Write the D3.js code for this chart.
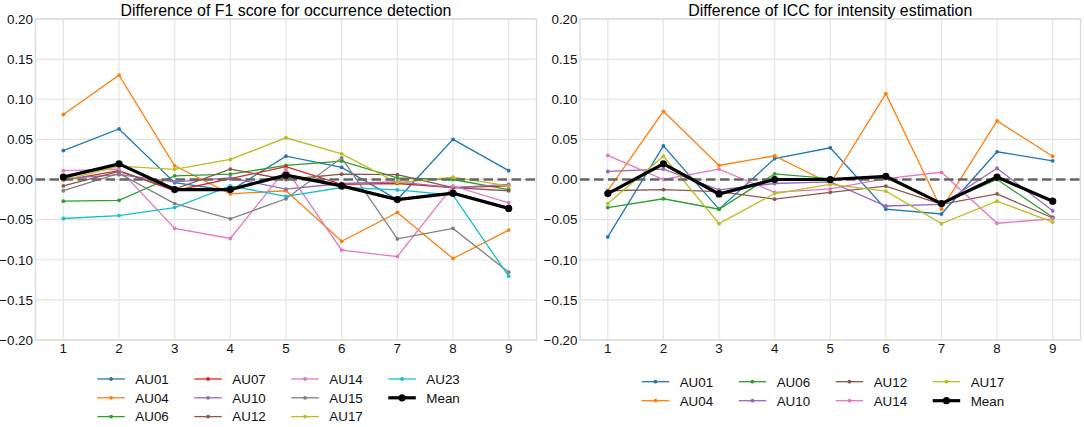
<!DOCTYPE html>
<html><head><meta charset="utf-8">
<script src="https://cdn.jsdelivr.net/npm/d3@7"></script>
<style>body{margin:0;background:#fff}svg{display:block;font-family:"Liberation Sans",Arial,sans-serif}</style>
</head><body><svg id="c" width="1084" height="427"></svg>
<script>
const xTicks = [1,2,3,4,5,6,7,8,9];
const yTicks = [-0.20,-0.15,-0.10,-0.05,0.00,0.05,0.10,0.15,0.20];

// Left: F1 score differences
const f1Names = ["AU01","AU04","AU06","AU07","AU10","AU12","AU14","AU15","AU17","AU23"];
const f1_AU01 = [0.036,0.063,-0.004,-0.014,0.029,0.015,-0.025,0.050,0.011];
const f1_AU04 = [0.081,0.130,0.017,-0.018,-0.014,-0.077,-0.041,-0.0985,-0.063];
const f1_AU06 = [-0.027,-0.026,0.0046,0.0066,0.0175,0.023,0.002,0.000,-0.0125];
const f1_AU07 = [-0.001,0.011,-0.014,0.001,0.016,-0.006,-0.005,-0.010,-0.008];
const f1_AU10 = [0.001,0.006,-0.003,0.002,-0.012,-0.005,-0.003,-0.010,-0.006];
const f1_AU12 = [-0.008,0.010,-0.012,0.013,0.000,0.0066,0.006,-0.010,-0.014];
const f1_AU14 = [0.011,0.013,-0.061,-0.0735,0.013,-0.088,-0.096,-0.008,-0.029];
const f1_AU15 = [-0.014,0.0075,-0.030,-0.049,-0.024,0.027,-0.074,-0.061,-0.1155];
const f1_AU17 = [-0.001,0.0166,0.0125,0.025,0.052,0.032,-0.004,0.003,-0.008];
const f1_AU23 = [-0.0486,-0.045,-0.035,-0.008,-0.021,-0.010,-0.013,-0.0195,-0.1205];
const f1_Mean = [0.003,0.0195,-0.0125,-0.0125,0.0054,-0.008,-0.025,-0.017,-0.036];

// Right: ICC differences
const iccNames = ["AU01","AU04","AU06","AU10","AU12","AU14","AU17"];
const icc_AU01 = [-0.0715,0.042,-0.037,0.026,0.0395,-0.037,-0.043,0.0345,0.0233];
const icc_AU04 = [-0.014,0.085,0.0175,0.0295,-0.005,0.107,-0.037,0.073,0.029];
const icc_AU06 = [-0.035,-0.024,-0.037,0.007,0.001,0.002,-0.030,0.000,-0.047];
const icc_AU10 = [0.010,0.013,-0.013,-0.005,-0.003,-0.033,-0.031,0.014,-0.039];
const icc_AU12 = [-0.014,-0.0125,-0.015,-0.0245,-0.016,-0.0083,-0.031,-0.018,-0.048];
const icc_AU14 = [0.030,0.000,0.013,-0.016,-0.0116,0.001,0.009,-0.0545,-0.049];
const icc_AU17 = [-0.030,0.029,-0.055,-0.0175,-0.006,-0.0145,-0.055,-0.027,-0.053];
const icc_Mean = [-0.0175,0.0195,-0.018,0.000,0.000,0.004,-0.030,0.003,-0.027];

const colors = {AU01:"#1f77b4",AU04:"#ff7f0e",AU06:"#2ca02c",AU07:"#d62728",AU10:"#9467bd",
  AU12:"#8c564b",AU14:"#e377c2",AU15:"#7f7f7f",AU17:"#bcbd22",AU23:"#17becf",Mean:"#000000"};

const f1Series = [f1_AU01,f1_AU04,f1_AU06,f1_AU07,f1_AU10,f1_AU12,f1_AU14,f1_AU15,f1_AU17,f1_AU23].map((v,i)=>({name:f1Names[i],values:v}));
const iccSeries = [icc_AU01,icc_AU04,icc_AU06,icc_AU10,icc_AU12,icc_AU14,icc_AU17].map((v,i)=>({name:iccNames[i],values:v}));

const svg = d3.select("#c");
const fmt = d => d3.format(".2f")(d).replace("-","\u2212");

function panel(cfg){
  const x = d3.scaleLinear().domain([0.5,9.5]).range([cfg.x0,cfg.x1]);
  const y = d3.scaleLinear().domain([-0.2,0.2]).range([340,19]);
  const g = svg.append("g");
  g.selectAll(".gx").data(xTicks).enter().append("line")
    .attr("x1",d=>x(d)).attr("x2",d=>x(d)).attr("y1",19).attr("y2",340)
    .attr("stroke","#e3e3e3").attr("stroke-width",1.1);
  g.selectAll(".gy").data(yTicks).enter().append("line")
    .attr("y1",d=>y(d)).attr("y2",d=>y(d)).attr("x1",cfg.x0).attr("x2",cfg.x1)
    .attr("stroke","#e3e3e3").attr("stroke-width",1.1);
  g.append("rect").attr("x",cfg.x0).attr("y",19).attr("width",cfg.x1-cfg.x0).attr("height",321)
    .attr("fill","none").attr("stroke","#dadada").attr("stroke-width",1.4);
  g.selectAll(".tx").data(xTicks).enter().append("text")
    .attr("x",d=>x(d)).attr("y",352.5).attr("text-anchor","middle")
    .attr("font-size",13.4).attr("fill","#111").text(d=>d);
  g.selectAll(".ty").data(yTicks).enter().append("text")
    .attr("x",cfg.x0-2.5).attr("y",d=>y(d)).attr("dy","0.36em").attr("text-anchor","end")
    .attr("font-size",13.4).attr("fill","#111").text(fmt);
  g.append("text").attr("x",(cfg.x0+cfg.x1)/2).attr("y",16).attr("text-anchor","middle")
    .attr("font-size",15.9).attr("fill","#000").text(cfg.title);
  const line = d3.line().x((d,i)=>x(xTicks[i])).y(d=>y(d));
  cfg.series.forEach(s=>{
    g.append("path").attr("d",line(s.values)).attr("fill","none")
      .attr("stroke",colors[s.name]).attr("stroke-width",1.3);
    g.selectAll(null).data(s.values).enter().append("circle")
      .attr("cx",(d,i)=>x(xTicks[i])).attr("cy",d=>y(d)).attr("r",1.9).attr("fill",colors[s.name]);
  });
  g.append("line").attr("x1",cfg.x0).attr("x2",cfg.x1).attr("y1",y(0)).attr("y2",y(0))
    .attr("stroke","#666").attr("stroke-width",2.6).attr("stroke-dasharray","9.5,4.5");
  g.append("path").attr("d",line(cfg.mean)).attr("fill","none")
    .attr("stroke","#000").attr("stroke-width",3.2);
  g.selectAll(null).data(cfg.mean).enter().append("circle")
    .attr("cx",(d,i)=>x(xTicks[i])).attr("cy",d=>y(d)).attr("r",3.6).attr("fill","#000");
  const items = cfg.series.map(s=>s.name).concat(["Mean"]);
  items.forEach((name,k)=>{
    const col = Math.floor(k/cfg.rows), row = k % cfg.rows;
    const lx = cfg.legX + col*cfg.colW, ly = cfg.legY + row*cfg.rowH;
    const isMean = name==="Mean";
    g.append("line").attr("x1",lx).attr("x2",lx+27.5).attr("y1",ly).attr("y2",ly)
      .attr("stroke",colors[name]).attr("stroke-width",isMean?3.2:1.3);
    g.append("circle").attr("cx",lx+13.75).attr("cy",ly).attr("r",isMean?3.6:1.9).attr("fill",colors[name]);
    g.append("text").attr("x",lx+38).attr("y",ly).attr("dy","0.36em")
      .attr("font-size",13.4).attr("fill","#111").text(name);
  });
}

panel({x0:35.5,x1:536.5,title:"Difference of F1 score for occurrence detection",
  series:f1Series,mean:f1_Mean,legX:97.3,legY:379,colW:97,rowH:18.8,rows:3});
panel({x0:580,x1:1080.5,title:"Difference of ICC for intensity estimation",
  series:iccSeries,mean:icc_Mean,legX:641.7,legY:381.7,colW:97,rowH:19,rows:2});
</script></body></html>
